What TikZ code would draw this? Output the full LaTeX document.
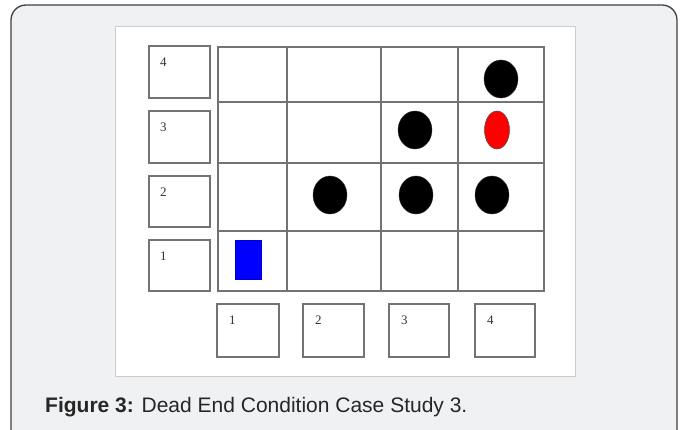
\documentclass[tikz,border=0pt]{standalone}
\usepackage{fontspec}
\usetikzlibrary{shapes.geometric}
\setmainfont{Liberation Serif}
\newfontfamily\capfont{Liberation Sans}
\definecolor{panelbg}{HTML}{F0F1F3}
\begin{document}
\begin{tikzpicture}[x=1pt,y=-1pt,
  lbox/.style={draw=black!55,line width=1.1pt,fill=white},
  lbl/.style={font=\fontsize{13}{14}\selectfont,inner sep=0pt,anchor=north west,text=black!80},
  gridline/.style={draw=black!55,line width=1.1pt},
  coin/.style={ellipse,fill=black,draw=black!80,line width=0.4pt,minimum width=34pt,minimum height=38pt,inner sep=0pt},
]
\useasboundingbox (0,0) rectangle (683,430);
\draw[fill=panelbg,draw=black!75,line width=1.3pt,rounded corners=15pt] (11,5) rectangle (677,445);
\draw[fill=white,draw=black!20,line width=0.6pt] (115,26) rectangle (575,376);
% row labels
\foreach \n/\ya/\yb in {4/46/98,3/111/163,2/176/227,1/240/291}{
  \draw[lbox] (149,\ya) rectangle (210,\yb);
  \node[lbl] (r\n) at (160,\ya+12) {\n};
}
% column labels
\foreach \n/\xa/\xb in {1/217/279,2/303/364,3/389/449,4/475/535}{
  \draw[lbox] (\xa,304) rectangle (\xb,357);
  \node[lbl] (c\n) at (\xa+12,316) {\n};
}
% grid
\draw[gridline] (218,47) rectangle (544,291);
\foreach \x in {287,381,458} \draw[gridline] (\x,47) -- (\x,291);
\foreach \y in {102,163,231} \draw[gridline] (218,\y) -- (544,\y);
% robot
\node[fill=blue,draw=blue!80!black,line width=0.4pt,minimum width=26pt,minimum height=39pt,inner sep=0pt] (robot) at (248,259.5) {};
% obstacles
\node[coin] (o44) at (501,79) {};
\node[coin] (o33) at (415,130) {};
\node[coin] (o22) at (330,195) {};
\node[coin] (o32) at (416,195) {};
\node[coin] (o42) at (492,195) {};
\node[ellipse,fill=red,draw=black!70,line width=0.5pt,minimum width=25pt,minimum height=38pt,inner sep=0pt] (goal) at (497,130) {};
% caption
\node[anchor=base west,inner sep=0pt,text=black!85,font=\capfont\fontsize{21}{24}\selectfont] (cap) at (45,413) {\textbf{Figure 3:} Dead End Condition Case Study 3.};
\end{tikzpicture}
\end{document}
